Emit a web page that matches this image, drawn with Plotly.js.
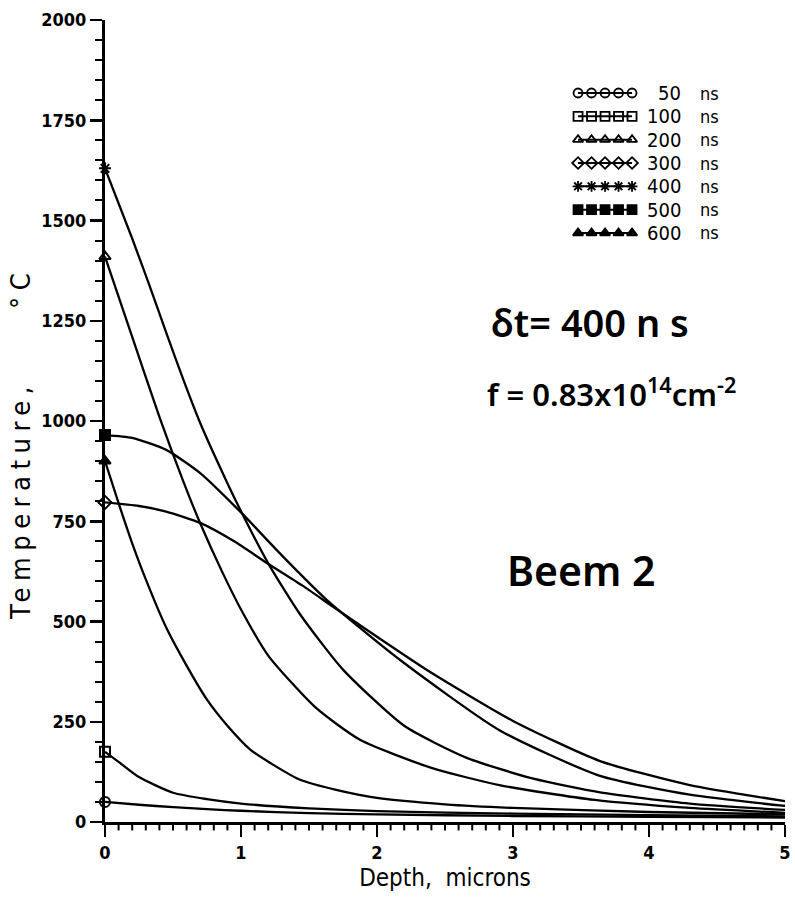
<!DOCTYPE html>
<html>
<head>
<meta charset="utf-8">
<script src="https://cdn.plot.ly/plotly-3.0.1.min.js"></script>
<style>html,body{margin:0;padding:0;background:#fff;}#chart{width:795px;height:901px;}</style>
</head>
<body>
<div id="chart"></div>
<script>
// ---- data ----
const times = [50, 100, 200, 300, 400, 500, 600];           // ns
const symbols = ['circle-open','square-open','triangle-up-open','diamond-open','asterisk-open','square','triangle-up'];

const depth50  = [0,0.25,0.5,0.75,1,1.5,2,3,4,5];
const temp50   = [50,43,37,32,28,22,19,15,13,11];

const depth100 = [0,0.1,0.25,0.5,0.75,1,1.5,2,3,4,5];
const temp100  = [175,150,112,73,57,46,34,27,21,17,14];

const depth200 = [0,0.2,0.4,0.575,0.7,0.86,1,1.2,1.55,1.875,2.4,2.9,3.6,4.3,5];
const temp200  = [1410,1210,1010,850,745,625,530,415,285,205,135,92,55,35,23];

const depth300 = [0,0.25,0.45,0.7,0.95,1.19,1.45,1.68,2.0,2.4,3.0,3.64,4.3,5];
const temp300  = [797,788,774,746,700,646,590,536,462,372,252,152,92,52];

const depth400 = [0,0.2,0.33,0.456,0.574,0.7,0.9,1.0,1.2,1.43,1.75,2.2,2.66,3.15,3.64,4.3,5];
const temp400  = [1630,1455,1335,1215,1105,995,845,775,645,520,380,240,160,108,74,46,30];

const depth500 = [0,0.2,0.45,0.7,1.0,1.3,1.63,2.17,2.9,3.64,4.3,5];
const temp500  = [965,958,928,870,772,665,554,404,229,115,68,40];

const depth600 = [0,0.1,0.2,0.3,0.45,0.6,0.75,0.9,1.07,1.25,1.43,1.7,2.0,2.5,3,4,5];
const temp600  = [900,795,695,605,485,390,305,240,180,140,106,80,60,44,35,25,19];

const yTicks = [0,250,500,750,1000,1250,1500,1750,2000];
const xTicks = [0,1,2,3,4,5];
const xMinorStep = 0.1;

const depths = [depth50, depth100, depth200, depth300, depth400, depth500, depth600];
const temps  = [temp50, temp100, temp200, temp300, temp400, temp500, temp600];

// ---- styling ----
const INK = '#000';
const plotFont = 'Liberation Sans Narrow, DejaVu Sans Condensed, Arial Narrow, sans-serif';
const handFont = 'Noto Sans, DejaVu Sans, sans-serif';

const xMinor = [];
for (let k = 1; k < Math.round(5 / xMinorStep); k++) {
  if (k % 10 !== 0) xMinor.push(+(k * xMinorStep).toFixed(2));
}

const traces = [];
// curves
depths.forEach((d, i) => {
  traces.push({
    x: d, y: temps[i], type: 'scatter', mode: 'lines',
    line: {color: INK, width: 2.3, shape: 'spline', smoothing: 0.6},
    showlegend: false, hoverinfo: 'skip'
  });
});
// start markers (first point of each series)
depths.forEach((d, i) => {
  traces.push({
    x: [d[0]], y: [temps[i][0]], type: 'scatter', mode: 'markers',
    marker: {symbol: symbols[i], size: 10, color: INK, line: {color: INK, width: 2}},
    showlegend: false, hoverinfo: 'skip', cliponaxis: false
  });
});
// custom legend: five symbols on a line per series, drawn on an auxiliary axis
const legendSlots = [0,1,2,3,4];
times.forEach((t, i) => {
  traces.push({
    x: legendSlots, y: legendSlots.map(() => i), xaxis: 'x2', yaxis: 'y2',
    type: 'scatter', mode: 'lines+markers',
    line: {color: INK, width: 2},
    marker: {symbol: symbols[i], size: 9, color: INK, line: {color: INK, width: 1.8}},
    showlegend: false, hoverinfo: 'skip', cliponaxis: false
  });
});

const annotations = [];
times.forEach((t, i) => {
  annotations.push({xref: 'x2', yref: 'y2', x: 7.78, y: i, text: String(t), showarrow: false,
    xanchor: 'right', yanchor: 'middle', font: {family: plotFont, size: 20, color: INK}});
  annotations.push({xref: 'x2', yref: 'y2', x: 8.9, y: i, text: 'ns', showarrow: false,
    xanchor: 'left', yanchor: 'middle', font: {family: plotFont, size: 18, color: INK}});
});
annotations.push({xref: 'paper', yref: 'paper', x: 0.713, y: 0.623, text: 'δt= 400 n s', showarrow: false,
  xanchor: 'center', yanchor: 'middle',
  font: {family: handFont, size: 38, color: INK, weight: 600}});
annotations.push({xref: 'paper', yref: 'paper', x: 0.745, y: 0.536,
  text: 'f = 0.83x10<sup>14</sup>cm<sup>-2</sup>', showarrow: false,
  xanchor: 'center', yanchor: 'middle',
  font: {family: handFont, size: 31, color: INK, weight: 600}});
annotations.push({xref: 'paper', yref: 'paper', x: 0.70, y: 0.314, text: 'Beem 2', showarrow: false,
  xanchor: 'center', yanchor: 'middle',
  font: {family: handFont, size: 41, color: INK, weight: 600}});

// minor ticks on the depth axis (every 0.1 micron), below the axis line
const shapes = xMinor.map(v => ({
  type: 'line', xref: 'x', yref: 'paper', x0: v, x1: v, y0: 0, y1: -0.0105,
  line: {color: INK, width: 2}
}));

const layout = {
  width: 795, height: 901,
  margin: {l: 105, r: 10, t: 20, b: 79, pad: 0},
  paper_bgcolor: '#fff', plot_bgcolor: '#fff',
  showlegend: false,
  xaxis: {
    range: [0, 5], tickmode: 'array', tickvals: xTicks, ticktext: xTicks.map(String),
    showgrid: false, zeroline: false, showline: true, linecolor: INK, linewidth: 3,
    ticks: 'outside', ticklen: 12, tickwidth: 2.5, tickcolor: INK,
    tickfont: {family: plotFont, size: 18, color: INK, weight: 'bold'},
    title: {text: 'Depth,  microns', font: {family: plotFont, size: 24, color: INK}, standoff: 8}
  },
  yaxis: {
    range: [0, 2000], tickmode: 'array', tickvals: yTicks, ticktext: yTicks.map(String),
    showgrid: false, zeroline: false, showline: true, linecolor: INK, linewidth: 3,
    ticks: 'outside', ticklen: 12, tickwidth: 2.5, tickcolor: INK,
    minor: {tickmode: 'linear', dtick: 50, ticks: 'outside', ticklen: 7, tickwidth: 2, tickcolor: INK, showgrid: false},
    tickfont: {family: plotFont, size: 18, color: INK, weight: 'bold'},
    title: {text: 'Temperature,     °C', font: {family: plotFont, size: 27, color: INK}, standoff: 6}
  },
  xaxis2: {domain: [0, 1], anchor: 'y2', overlaying: 'x', range: [-35.04, 15.33], visible: false, fixedrange: true},
  yaxis2: {domain: [0, 1], anchor: 'x2', overlaying: 'y', range: [31.25, -3.13], visible: false, fixedrange: true},
  shapes: shapes,
  annotations: annotations
};

Plotly.newPlot('chart', traces, layout, {staticPlot: true, displayModeBar: false}).then(gd => {
  const yt = gd.querySelector('.ytitle');
  if (yt) {
    yt.style.letterSpacing = '6.5px';
    const g = yt.parentNode;
    if (g) g.setAttribute('transform', 'translate(3,22)');
  }
});
</script>
</body>
</html>
